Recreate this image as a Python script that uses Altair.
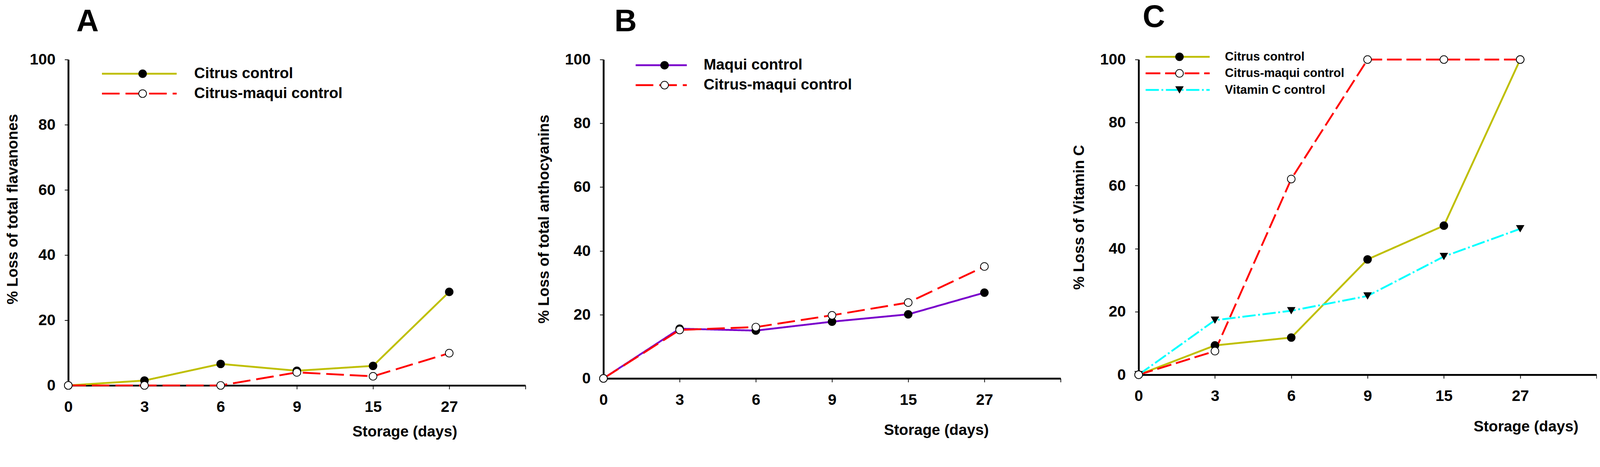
import altair as alt
import pandas as pd

FONT = "Liberation Sans"

# ---- data ----
days = ["0", "3", "6", "9", "15", "27"]

a_names = ["Citrus control", "Citrus-maqui control"]
a_citrus = [0, 1.5, 6.6, 4.5, 6.0, 28.7]
a_citrus_maqui = [0, 0, 0, 4.0, 2.8, 9.9]

b_names = ["Maqui control", "Citrus-maqui control"]
b_maqui = [0, 15.6, 15.0, 17.8, 20.1, 26.9]
b_citrus_maqui = [0, 15.2, 16.1, 19.8, 23.8, 35.1]

c_names = ["Citrus control", "Citrus-maqui control", "Vitamin C control"]
c_citrus = [0, 9.3, 11.8, 36.6, 47.3, 100]
c_citrus_maqui = [0, 7.5, 62.1, 100, 100, 100]
c_vitc = [0, 17.3, 20.3, 25.0, 37.5, 46.3]

y_ticks = [0, 20, 40, 60, 80, 100]

# keys that keep the marker legends apart from the line legend
OUT = "o: "
PT = "p: "
MARK_SIZE = 529    # marker symbol size (black body / outline)
# inner disc, drawn in the same symbol box (radius 0.82 of the marker)
INNER_PATH = "M0,-0.82A0.82,0.82,0,1,1,0,0.82A0.82,0.82,0,1,1,0,-0.82Z"


def make_df(names, series):
    rows = []
    for name, vals in zip(names, series):
        for i, v in enumerate(vals):
            rows.append({"idx": i, "day": days[i], "value": v, "series": name,
                         "series_o": OUT + name, "series_p": PT + name})
    return pd.DataFrame(rows)


label_expr = "[" + ",".join("'%s'" % d for d in days) + ",''][datum.value]"


def legend(x, y, font, rowpad, zi, **kw):
    return alt.Legend(orient="none", legendX=x, legendY=y, title=None,
                      clipHeight=font, labelFont=FONT, labelFontSize=font,
                      labelFontWeight="bold", labelColor="black", labelLimit=1000,
                      rowPadding=rowpad, padding=0, zindex=zi, **kw)


def panel(letter, ytitle, df, names, colors, dashes, inner_fills, shapes,
          w, h, leg_y, leg_font, leg_rowpad, line_len, mc, lab_off,
          title_dx, title_offset, xt_x, xt_y, yt_x, yt_y):
    x = alt.X("idx:Q",
              scale=alt.Scale(domain=[0, 6], nice=False, zero=True),
              axis=alt.Axis(values=list(range(7)), labelExpr=label_expr,
                            title="Storage (days)", grid=False,
                            domainColor="black", domainWidth=5,
                            tickColor="black", tickWidth=2, tickSize=10,
                            labelFont=FONT, labelFontSize=42, labelFontWeight="bold",
                            labelColor="black", labelPadding=28, labelFlush=False,
                            labelOverlap=False,
                            titleFont=FONT, titleFontSize=41, titleFontWeight="bold",
                            titleColor="black", titleX=xt_x, titleY=xt_y,
                            titleAlign="center", titleBaseline="middle"))
    y = alt.Y("value:Q",
              scale=alt.Scale(domain=[0, 100], nice=False, zero=True),
              axis=alt.Axis(values=y_ticks, grid=False, title=ytitle,
                            domainColor="black", domainWidth=5,
                            tickColor="black", tickWidth=2, tickSize=10,
                            labelFont=FONT, labelFontSize=42, labelFontWeight="bold",
                            labelColor="black", labelPadding=25,
                            titleFont=FONT, titleFontSize=41, titleFontWeight="bold",
                            titleColor="black", titleX=yt_x, titleY=yt_y,
                            titleAngle=270, titleAlign="center", titleBaseline="middle"))

    line_sym = line_len + 5
    mark_x = mc - MARK_SIZE ** 0.5 / 2
    leg_line = legend(mc - line_sym / 2, leg_y, leg_font, leg_rowpad, 1,
                      symbolType="stroke", symbolSize=line_len ** 2,
                      symbolStrokeWidth=5, labelOffset=lab_off)
    leg_out = legend(mark_x, leg_y, leg_font, leg_rowpad, 2,
                     symbolSize=MARK_SIZE, symbolStrokeWidth=0, symbolOpacity=1,
                     labelOpacity=0)
    leg_in = legend(mark_x, leg_y, leg_font, leg_rowpad, 3,
                    symbolSize=MARK_SIZE, symbolStrokeWidth=0, symbolOpacity=1,
                    labelOpacity=0)

    onames = [OUT + n for n in names]
    pnames = [PT + n for n in names]
    line = alt.Chart(df).mark_line(strokeWidth=5).encode(
        x=x, y=y,
        stroke=alt.Stroke("series:N", scale=alt.Scale(domain=names, range=colors),
                          legend=leg_line),
        strokeDash=alt.StrokeDash("series:N", scale=alt.Scale(domain=names, range=dashes),
                                  legend=leg_line),
    )
    outer = alt.Chart(df).mark_point(filled=True, size=MARK_SIZE, color="black",
                                     opacity=1).encode(
        x=x, y=y,
        shape=alt.Shape("series_o:N", scale=alt.Scale(domain=onames, range=shapes),
                        legend=leg_out),
    )
    inner = alt.Chart(df).mark_point(filled=True, size=MARK_SIZE, shape=INNER_PATH,
                                     opacity=1).encode(
        x=x, y=y,
        fill=alt.Fill("series_p:N", scale=alt.Scale(domain=pnames, range=inner_fills),
                      legend=leg_in),
    )
    return alt.layer(line, outer, inner).properties(
        width=w, height=h,
        title=alt.TitleParams(letter, fontSize=84, font=FONT, fontWeight="bold",
                              color="black", anchor="start", frame="group",
                              dx=title_dx, offset=title_offset),
    )


OLIVE = "#BFBF00"
RED = "#FF0000"
PURPLE = "#7A00CC"
CYAN = "#00FFFF"

dfA = make_df(a_names, [a_citrus, a_citrus_maqui])
dfB = make_df(b_names, [b_maqui, b_citrus_maqui])
dfC = make_df(c_names, [c_citrus, c_citrus_maqui, c_vitc])

pA = panel("A", "% Loss of total flavanones", dfA, a_names,
           [OLIVE, RED], [[1, 0], [48, 16]], ["black", "white"], ["circle", "circle"],
           1242, 885, 18, 41, 12, 203, 193, 45,
           22, 38, 914, 126, -150, 406)
pB = panel("B", "% Loss of total anthocyanins", dfB, b_names,
           [PURPLE, RED], [[1, 0], [48, 16]], ["black", "white"], ["circle", "circle"],
           1242, 866, -5, 41, 12, 139, 157, 43,
           30, 38, 904, 141, -161, 433)
pC = panel("C", "% Loss of Vitamin C", dfC, c_names,
           [OLIVE, RED, CYAN], [[1, 0], [40, 13], [36, 7, 5, 7]],
           ["black", "white", "transparent"], ["circle", "circle", "triangle-down"],
           1244, 856, -24, 33, 11, 174, 106, 39,
           11, 46, 1052, 141, -161, 428)

chart = alt.hconcat(pA, pB, pC, spacing=29).resolve_scale(
    stroke="independent", strokeDash="independent",
    fill="independent", shape="independent",
    x="independent", y="independent",
).properties(padding={"left": 6, "top": -37, "right": 0, "bottom": 0}).configure_view(strokeWidth=0)

chart.save("out.html", embed_options={"renderer": "svg", "actions": False})
